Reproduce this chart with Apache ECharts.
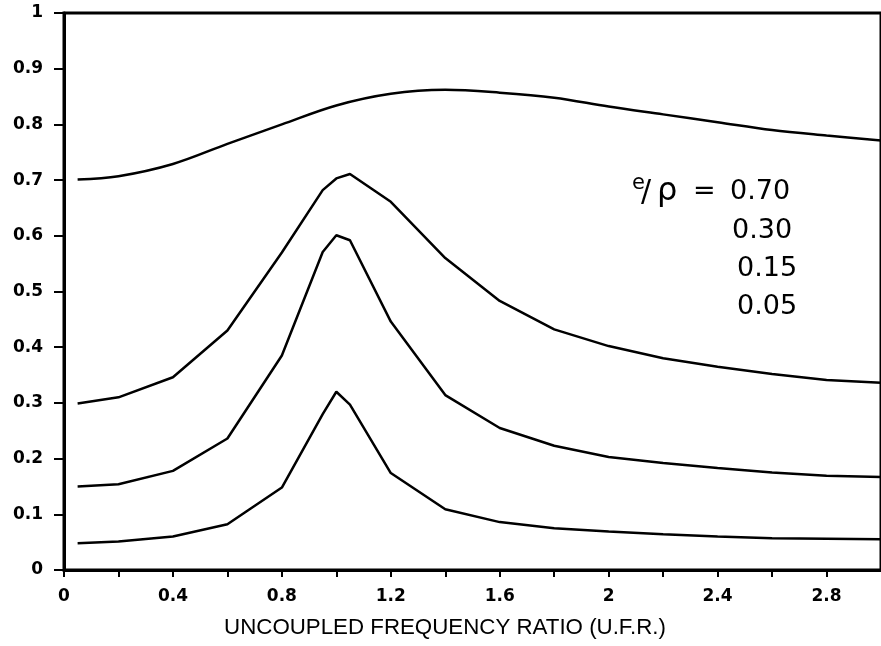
<!DOCTYPE html>
<html>
<head>
<meta charset="utf-8">
<script src="https://cdn.jsdelivr.net/npm/echarts@6/dist/echarts.min.js"></script>
<style>html,body{margin:0;padding:0;background:#fff}#c{width:881px;height:646px}</style>
</head>
<body>
<div id="c"></div>
<script>
// ---- data ----
const x070 = [0.05, 0.2, 0.4, 0.6, 0.8, 1.0, 1.2, 1.4, 1.6, 1.8, 2.0, 2.2, 2.4, 2.6, 2.8, 3.0];
const y070 = [0.701, 0.707, 0.729, 0.765, 0.800, 0.834, 0.855, 0.862, 0.857, 0.848, 0.832, 0.818, 0.804, 0.790, 0.780, 0.771];

const x030 = [0.05, 0.2, 0.4, 0.6, 0.8, 0.95, 1.0, 1.05, 1.2, 1.4, 1.6, 1.8, 2.0, 2.2, 2.4, 2.6, 2.8, 3.0];
const y030 = [0.299, 0.310, 0.346, 0.430, 0.570, 0.682, 0.703, 0.711, 0.661, 0.560, 0.483, 0.432, 0.402, 0.380, 0.365, 0.352, 0.341, 0.336];

const x015 = [0.05, 0.2, 0.4, 0.6, 0.8, 0.95, 1.0, 1.05, 1.2, 1.4, 1.6, 1.8, 2.0, 2.2, 2.4, 2.6, 2.8, 3.0];
const y015 = [0.150, 0.154, 0.178, 0.236, 0.385, 0.571, 0.601, 0.592, 0.446, 0.314, 0.255, 0.223, 0.203, 0.192, 0.183, 0.175, 0.169, 0.167];

const x005 = [0.05, 0.2, 0.4, 0.6, 0.8, 0.95, 1.0, 1.05, 1.2, 1.4, 1.6, 1.8, 2.0, 2.2, 2.4, 2.6, 2.8, 3.0];
const y005 = [0.048, 0.051, 0.060, 0.082, 0.148, 0.280, 0.320, 0.297, 0.174, 0.109, 0.086, 0.075, 0.069, 0.064, 0.060, 0.057, 0.056, 0.055];

const xTickLabels = ['0', '0.4', '0.8', '1.2', '1.6', '2', '2.4', '2.8'];
const yTickLabels = ['0', '0.1', '0.2', '0.3', '0.4', '0.5', '0.6', '0.7', '0.8', '0.9', '1'];
const xTitle = 'UNCOUPLED FREQUENCY RATIO (U.F.R.)';
const ratioLabels = ['0.70', '0.30', '0.15', '0.05'];
// ---- end data ----

function pairs(xs, ys) { return xs.map((x, i) => [x, ys[i]]); }
function fmt(v) { return String(+(+v).toFixed(2)); }

const chart = echarts.init(document.getElementById('c'), null, { renderer: 'canvas' });
const lineStyle = { color: '#000', width: 2.5 };
const annFont = '27px "DejaVu Sans"';

chart.setOption({
  animation: false,
  backgroundColor: '#fff',
  grid: { left: 64, right: -6, top: 13, bottom: 76, show: true, borderColor: '#000', borderWidth: 3, backgroundColor: 'transparent' },
  xAxis: {
    type: 'value', min: 0, max: 3, interval: 0.2,
    splitLine: { show: false },
    axisLine: { show: true, lineStyle: { color: '#000', width: 3 } },
    axisTick: { show: true, length: 7, lineStyle: { color: '#000', width: 2 } },
    axisLabel: {
      margin: 18, showMaxLabel: false,
      color: '#000', fontFamily: 'DejaVu Sans', fontWeight: 'bold', fontSize: 17,
      formatter: v => { const s = fmt(v); return xTickLabels.includes(s) ? s : ''; }
    }
  },
  yAxis: {
    type: 'value', min: 0, max: 1, interval: 0.1,
    splitLine: { show: false },
    axisLine: { show: true, lineStyle: { color: '#000', width: 3 } },
    axisTick: { show: true, length: 10, lineStyle: { color: '#000', width: 2 } },
    axisLabel: {
      margin: 21,
      color: '#000', fontFamily: 'DejaVu Sans', fontWeight: 'bold', fontSize: 17,
      formatter: v => { const s = fmt(v); return yTickLabels.includes(s) ? s : ''; }
    }
  },
  series: [
    { type: 'line', data: pairs(x070, y070), smooth: 0.35, showSymbol: false, lineStyle: lineStyle, clip: true },
    { type: 'line', data: pairs(x030, y030), showSymbol: false, lineStyle: lineStyle, clip: true },
    { type: 'line', data: pairs(x015, y015), showSymbol: false, lineStyle: lineStyle, clip: true },
    { type: 'line', data: pairs(x005, y005), showSymbol: false, lineStyle: lineStyle, clip: true }
  ],
  graphic: [
    { type: 'text', x: 445, y: 628, style: { text: xTitle, font: '22.3px "Liberation Sans"', fill: '#000', textAlign: 'center', textVerticalAlign: 'middle' } },
    { type: 'text', x: 632, y: 184, style: { text: 'e', font: '21px "DejaVu Sans"', fill: '#000', textAlign: 'left', textVerticalAlign: 'middle' } },
    { type: 'text', x: 641, y: 193, style: { text: '/', font: '30px "DejaVu Sans"', fill: '#000', textAlign: 'left', textVerticalAlign: 'middle' } },
    { type: 'text', x: 657, y: 192, style: { text: 'ρ', font: '32px "DejaVu Sans"', fill: '#000', textAlign: 'left', textVerticalAlign: 'middle' } },
    { type: 'text', x: 693, y: 192, style: { text: '=', font: annFont, fill: '#000', textAlign: 'left', textVerticalAlign: 'middle' } },
    { type: 'text', x: 730, y: 192, style: { text: ratioLabels[0], font: annFont, fill: '#000', textAlign: 'left', textVerticalAlign: 'middle' } },
    { type: 'text', x: 732, y: 231, style: { text: ratioLabels[1], font: annFont, fill: '#000', textAlign: 'left', textVerticalAlign: 'middle' } },
    { type: 'text', x: 737, y: 269, style: { text: ratioLabels[2], font: annFont, fill: '#000', textAlign: 'left', textVerticalAlign: 'middle' } },
    { type: 'text', x: 737, y: 307, style: { text: ratioLabels[3], font: annFont, fill: '#000', textAlign: 'left', textVerticalAlign: 'middle' } }
  ]
});
</script>
</body>
</html>
